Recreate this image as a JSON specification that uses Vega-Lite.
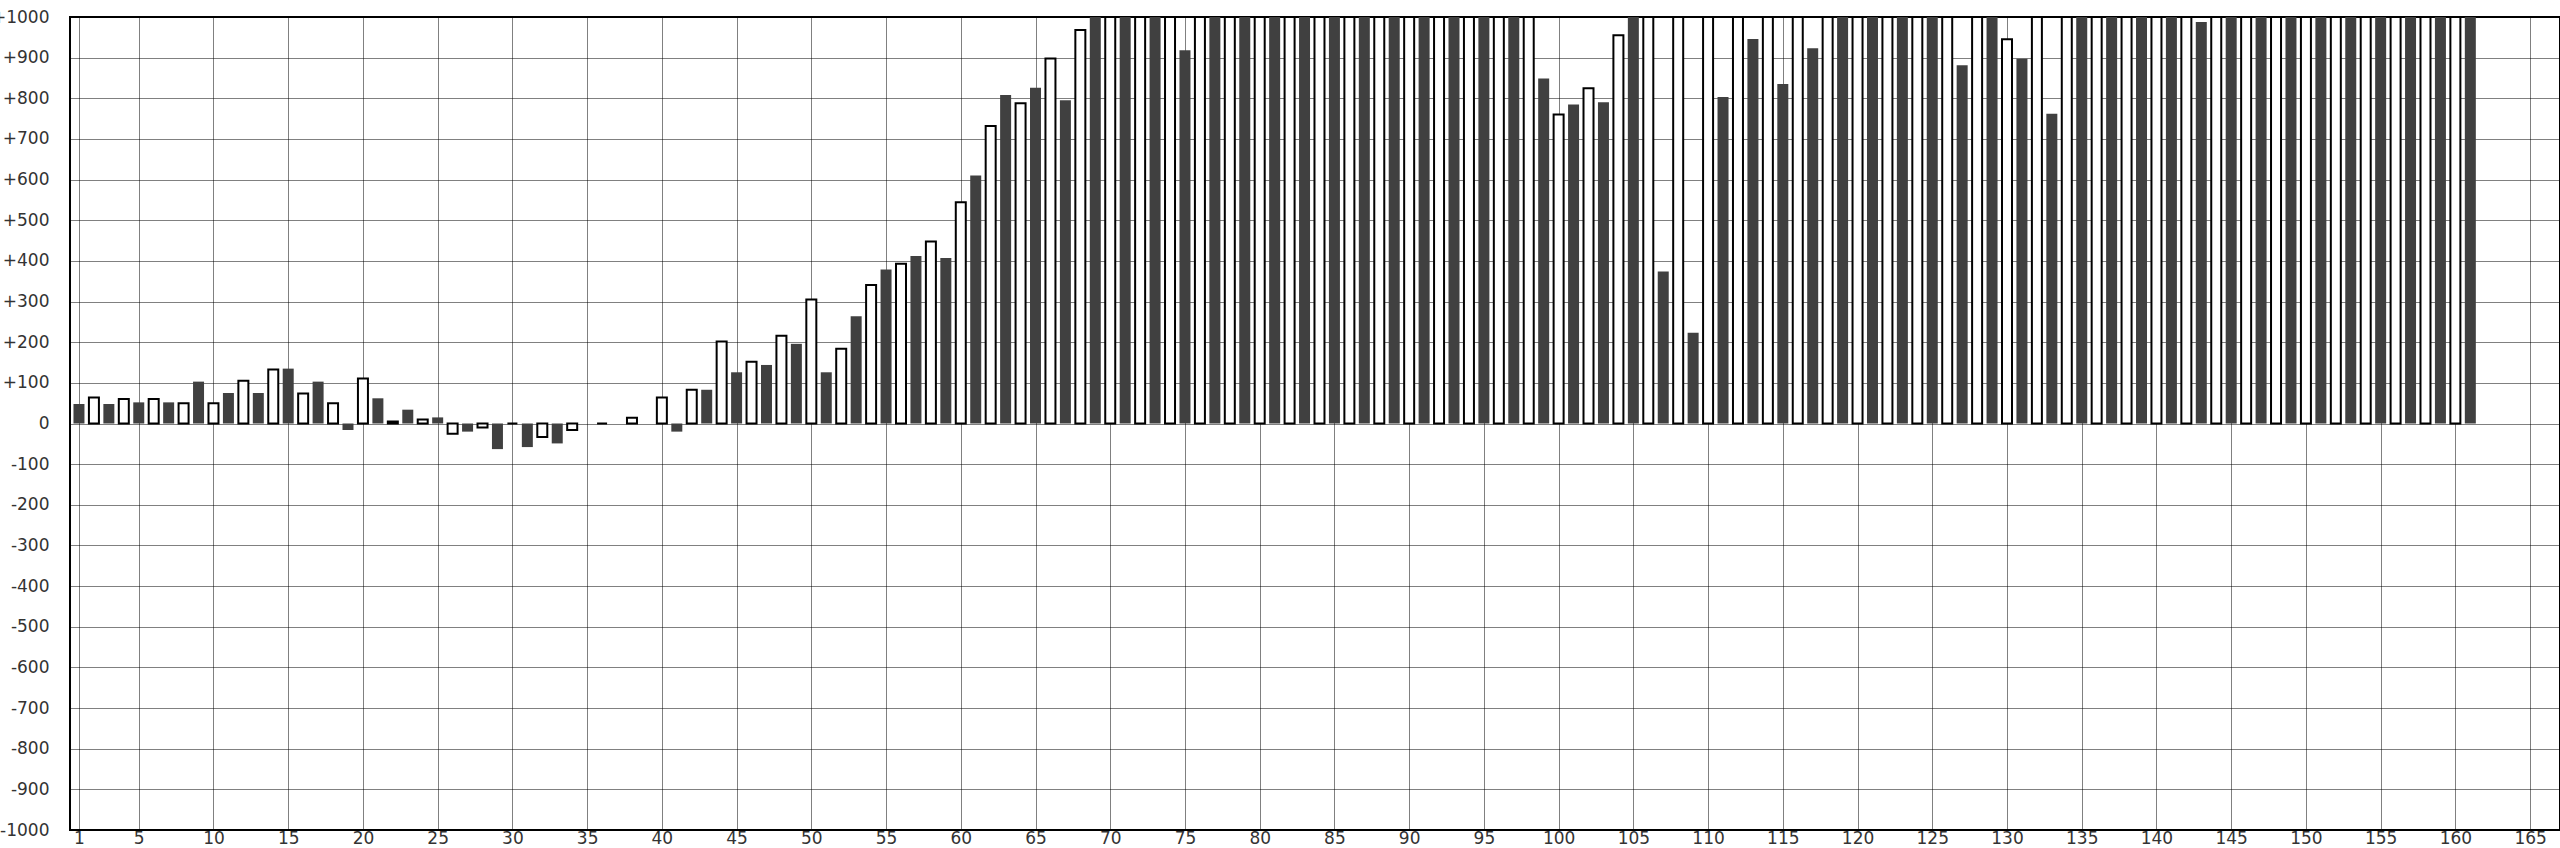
{
  "$schema": "https://vega.github.io/schema/vega-lite/v6.json",
  "autosize": {"type": "none"},
  "width": 2490,
  "height": 813,
  "padding": {"left": 70, "top": 17, "right": 0, "bottom": 18},
  "background": "white",
  "config": {
    "view": {"stroke": "black", "strokeWidth": 2},
    "axis": {
      "labelFont": "DejaVu Sans",
      "labelFontSize": 17,
      "labelColor": "#333333",
      "grid": true,
      "gridColor": "black",
      "gridDash": [1, 1],
      "gridWidth": 1,
      "gridOpacity": 1,
      "domain": false,
      "ticks": false,
      "title": null,
      "labelOverlap": false,
      "labelFlush": false
    }
  },
  "datasets": {
    "bars": [
      {"i":1,"v":48,"s":"A"},{"i":2,"v":64,"s":"B"},{"i":3,"v":48,"s":"A"},{"i":4,"v":60,"s":"B"},
      {"i":5,"v":52,"s":"A"},{"i":6,"v":60,"s":"B"},{"i":7,"v":52,"s":"A"},{"i":8,"v":50,"s":"B"},
      {"i":9,"v":103,"s":"A"},{"i":10,"v":50,"s":"B"},{"i":11,"v":75,"s":"A"},{"i":12,"v":105,"s":"B"},
      {"i":13,"v":75,"s":"A"},{"i":14,"v":133,"s":"B"},{"i":15,"v":135,"s":"A"},{"i":16,"v":74,"s":"B"},
      {"i":17,"v":103,"s":"A"},{"i":18,"v":50,"s":"B"},{"i":19,"v":-16,"s":"A"},{"i":20,"v":111,"s":"B"},
      {"i":21,"v":62,"s":"A"},{"i":22,"v":5,"s":"B"},{"i":23,"v":34,"s":"A"},{"i":24,"v":10,"s":"B"},
      {"i":25,"v":15,"s":"A"},{"i":26,"v":-25,"s":"B"},{"i":27,"v":-20,"s":"A"},{"i":28,"v":-10,"s":"B"},
      {"i":29,"v":-63,"s":"A"},{"i":30,"v":0,"s":"B"},{"i":31,"v":-58,"s":"A"},{"i":32,"v":-33,"s":"B"},
      {"i":33,"v":-49,"s":"A"},{"i":34,"v":-16,"s":"B"},{"i":35,"v":0,"s":"A"},{"i":36,"v":0,"s":"B"},
      {"i":37,"v":0,"s":"A"},{"i":38,"v":14,"s":"B"},{"i":39,"v":0,"s":"A"},{"i":40,"v":64,"s":"B"},
      {"i":41,"v":-20,"s":"A"},{"i":42,"v":83,"s":"B"},{"i":43,"v":83,"s":"A"},{"i":44,"v":202,"s":"B"},
      {"i":45,"v":126,"s":"A"},{"i":46,"v":152,"s":"B"},{"i":47,"v":144,"s":"A"},{"i":48,"v":216,"s":"B"},
      {"i":49,"v":196,"s":"A"},{"i":50,"v":305,"s":"B"},{"i":51,"v":126,"s":"A"},{"i":52,"v":184,"s":"B"},
      {"i":53,"v":264,"s":"A"},{"i":54,"v":341,"s":"B"},{"i":55,"v":379,"s":"A"},{"i":56,"v":393,"s":"B"},
      {"i":57,"v":412,"s":"A"},{"i":58,"v":448,"s":"B"},{"i":59,"v":407,"s":"A"},{"i":60,"v":544,"s":"B"},
      {"i":61,"v":610,"s":"A"},{"i":62,"v":732,"s":"B"},{"i":63,"v":808,"s":"A"},{"i":64,"v":788,"s":"B"},
      {"i":65,"v":826,"s":"A"},{"i":66,"v":898,"s":"B"},{"i":67,"v":795,"s":"A"},{"i":68,"v":968,"s":"B"},
      {"i":69,"v":1000,"s":"A"},{"i":70,"v":1000,"s":"B"},{"i":71,"v":1000,"s":"A"},{"i":72,"v":1000,"s":"B"},
      {"i":73,"v":1000,"s":"A"},{"i":74,"v":1000,"s":"B"},{"i":75,"v":918,"s":"A"},{"i":76,"v":1000,"s":"B"},
      {"i":77,"v":1000,"s":"A"},{"i":78,"v":1000,"s":"B"},{"i":79,"v":1000,"s":"A"},{"i":80,"v":1000,"s":"B"},
      {"i":81,"v":1000,"s":"A"},{"i":82,"v":1000,"s":"B"},{"i":83,"v":1000,"s":"A"},{"i":84,"v":1000,"s":"B"},
      {"i":85,"v":1000,"s":"A"},{"i":86,"v":1000,"s":"B"},{"i":87,"v":1000,"s":"A"},{"i":88,"v":1000,"s":"B"},
      {"i":89,"v":1000,"s":"A"},{"i":90,"v":1000,"s":"B"},{"i":91,"v":1000,"s":"A"},{"i":92,"v":1000,"s":"B"},
      {"i":93,"v":1000,"s":"A"},{"i":94,"v":1000,"s":"B"},{"i":95,"v":1000,"s":"A"},{"i":96,"v":1000,"s":"B"},
      {"i":97,"v":1000,"s":"A"},{"i":98,"v":1000,"s":"B"},{"i":99,"v":849,"s":"A"},{"i":100,"v":760,"s":"B"},
      {"i":101,"v":785,"s":"A"},{"i":102,"v":825,"s":"B"},{"i":103,"v":790,"s":"A"},{"i":104,"v":955,"s":"B"},
      {"i":105,"v":1000,"s":"A"},{"i":106,"v":1000,"s":"B"},{"i":107,"v":374,"s":"A"},{"i":108,"v":1000,"s":"B"},
      {"i":109,"v":223,"s":"A"},{"i":110,"v":1000,"s":"B"},{"i":111,"v":803,"s":"A"},{"i":112,"v":1000,"s":"B"},
      {"i":113,"v":946,"s":"A"},{"i":114,"v":1000,"s":"B"},{"i":115,"v":835,"s":"A"},{"i":116,"v":1000,"s":"B"},
      {"i":117,"v":923,"s":"A"},{"i":118,"v":1000,"s":"B"},{"i":119,"v":1000,"s":"A"},{"i":120,"v":1000,"s":"B"},
      {"i":121,"v":1000,"s":"A"},{"i":122,"v":1000,"s":"B"},{"i":123,"v":1000,"s":"A"},{"i":124,"v":1000,"s":"B"},
      {"i":125,"v":1000,"s":"A"},{"i":126,"v":1000,"s":"B"},{"i":127,"v":881,"s":"A"},{"i":128,"v":1000,"s":"B"},
      {"i":129,"v":1000,"s":"A"},{"i":130,"v":945,"s":"B"},{"i":131,"v":897,"s":"A"},{"i":132,"v":1000,"s":"B"},
      {"i":133,"v":762,"s":"A"},{"i":134,"v":1000,"s":"B"},{"i":135,"v":1000,"s":"A"},{"i":136,"v":1000,"s":"B"},
      {"i":137,"v":1000,"s":"A"},{"i":138,"v":1000,"s":"B"},{"i":139,"v":1000,"s":"A"},{"i":140,"v":1000,"s":"B"},
      {"i":141,"v":1000,"s":"A"},{"i":142,"v":1000,"s":"B"},{"i":143,"v":988,"s":"A"},{"i":144,"v":1000,"s":"B"},
      {"i":145,"v":1000,"s":"A"},{"i":146,"v":1000,"s":"B"},{"i":147,"v":1000,"s":"A"},{"i":148,"v":1000,"s":"B"},
      {"i":149,"v":1000,"s":"A"},{"i":150,"v":1000,"s":"B"},{"i":151,"v":1000,"s":"A"},{"i":152,"v":1000,"s":"B"},
      {"i":153,"v":1000,"s":"A"},{"i":154,"v":1000,"s":"B"},{"i":155,"v":1000,"s":"A"},{"i":156,"v":1000,"s":"B"},
      {"i":157,"v":1000,"s":"A"},{"i":158,"v":1000,"s":"B"},{"i":159,"v":1000,"s":"A"},{"i":160,"v":1000,"s":"B"},
      {"i":161,"v":1000,"s":"A"}
    ]
  },
  "layer": [
    {
      "data": {"name": "bars"},
      "transform": [{"filter": "datum.s === 'A'"}],
      "mark": {"type": "bar", "width": 11, "fill": "#404040", "stroke": null, "orient": "vertical"},
      "encoding": {
        "x": {
          "field": "i", "type": "quantitative",
          "scale": {"domain": [0.4, 167], "nice": false, "zero": false, "padding": 0},
          "axis": {
            "values": [1,5,10,15,20,25,30,35,40,45,50,55,60,65,70,75,80,85,90,95,100,105,110,115,120,125,130,135,140,145,150,155,160,165],
            "labelPadding": 0
          }
        },
        "y": {
          "field": "v", "type": "quantitative",
          "scale": {"domain": [-1000, 1000], "nice": false, "padding": 0},
          "axis": {
            "values": [-1000,-900,-800,-700,-600,-500,-400,-300,-200,-100,0,100,200,300,400,500,600,700,800,900,1000],
            "labelExpr": "datum.value > 0 ? '+' + datum.value : '' + datum.value",
            "labelPadding": 21
          }
        }
      }
    },
    {
      "data": {"name": "bars"},
      "transform": [{"filter": "datum.s === 'B'"}],
      "mark": {"type": "bar", "width": 10, "fill": "white", "stroke": "black", "strokeWidth": 2, "orient": "vertical"},
      "encoding": {
        "x": {"field": "i", "type": "quantitative"},
        "y": {"field": "v", "type": "quantitative"}
      }
    },
    {
      "mark": {"type": "rule", "color": "black", "strokeWidth": 2},
      "encoding": {"y": {"datum": 0}}
    },
    {
      "mark": {"type": "rule", "color": "black", "strokeWidth": 2},
      "encoding": {"y": {"datum": 1000}}
    }
  ]
}
